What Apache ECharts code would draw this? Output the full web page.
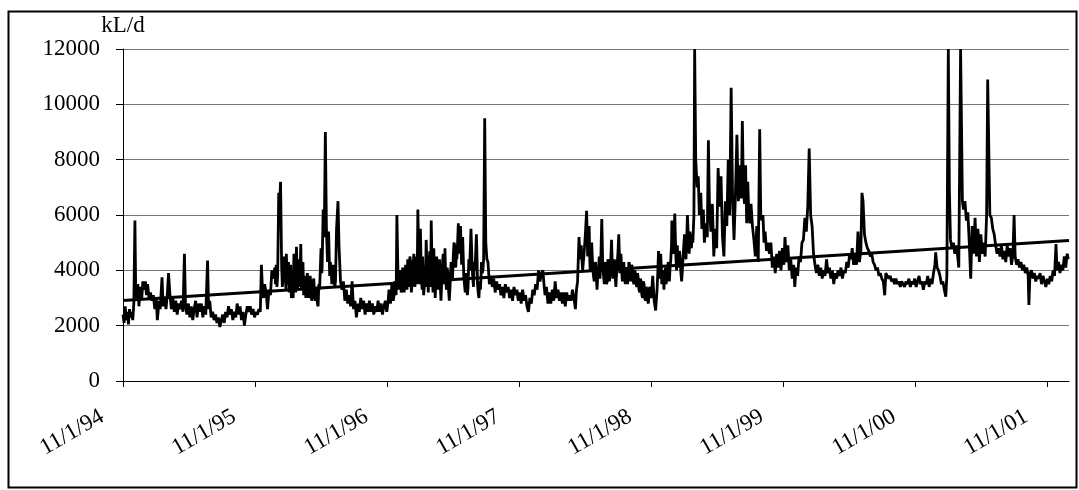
<!DOCTYPE html>
<html><head><meta charset="utf-8">
<script src="https://cdn.jsdelivr.net/npm/echarts@6/dist/echarts.min.js"></script>
<style>html,body{margin:0;padding:0;background:#fff}#c{width:1079px;height:490px}</style>
</head><body><div id="c"></div>
<script>
// x values are days since 11/1/94
const tickDays = [0, 365, 731, 1096, 1461, 1826, 2192, 2557];
const tickLabels = ['11/1/94', '11/1/95', '11/1/96', '11/1/97', '11/1/98', '11/1/99', '11/1/00', '11/1/01'];
const lastDay = 2618; // 1/1/02

// daily flow, kL/d, [day, value]
const flow9495 = [[0,2400],[3,2100],[6,2700],[9,2200],[12,2500],[15,2050],[18,2600],[21,2300],[24,2500],[27,2200],[30,2800],[33,5800],[35,3400],[38,3000],[41,3500],[44,2700],[48,3400],[52,3000],[55,3600],[58,3300],[62,3600],[65,3100],[68,3500],[72,3000],[76,3200],[80,2900],[84,3100],[88,2600],[92,3000],[95,2200],[100,2900],[103,2600],[108,3750],[111,2700],[115,3000],[119,2600],[123,3200],[126,3900],[130,3100],[134,2600],[138,3000],[142,2500],[146,2900],[150,2400],[154,2800],[158,2600],[162,2900],[166,2500],[170,4600],[173,2700],[177,2400],[181,2800],[185,2300],[189,2700],[193,2200],[197,2600],[201,2900],[205,2300],[209,2800],[213,2500],[217,2800],[221,2300],[225,2700],[229,2400],[234,4350],[237,2600],[240,2900],[244,2300],[248,2500],[252,2200],[256,2400],[260,2100],[264,2300],[268,1950],[272,2200],[276,2400],[280,2100],[284,2500],[288,2300],[292,2700],[296,2400],[300,2600],[304,2200],[308,2500],[312,2300],[316,2800],[320,2400],[324,2700],[328,2200],[332,2500],[336,2000],[340,2400],[344,2700],[348,2500],[352,2700],[356,2400],[360,2600],[364,2300]];
const flow9596 = [[368,2500],[372,2400],[376,2600],[380,2500],[383,4200],[386,3300],[389,3000],[392,3500],[396,3200],[400,2600],[404,3300],[408,3100],[412,4000],[416,3700],[420,4100],[422,3500],[424,4200],[426,3400],[428,3800],[431,6800],[434,6500],[436,7200],[439,4200],[441,3400],[443,3700],[446,4500],[447,3600],[449,3900],[451,3300],[452,4600],[454,3800],[455,3500],[458,4300],[460,3200],[462,3600],[464,4200],[466,3000],[469,3400],[471,3000],[473,4600],[476,3800],[478,3200],[480,4850],[483,3300],[485,4400],[486,4000],[489,3400],[492,4950],[494,3300],[495,3700],[498,4300],[500,3100],[501,3400],[504,3800],[506,3000],[508,3300],[510,3900],[512,3600],[514,3000],[516,3200],[518,3800],[520,3500],[522,2900],[524,3000],[526,3600],[528,3700],[530,3100],[532,2900],[534,3400],[536,3200],[538,2800],[540,2700],[542,3500],[544,3300],[546,4000],[548,4800],[550,3900],[551,4100],[554,6200],[557,5200],[560,9000],[563,5500],[566,4300],[569,5400],[572,3800],[574,4300],[576,4000],[578,3500],[580,3700],[582,4200],[584,3900],[586,3400],[588,3600],[591,5500],[595,6500],[598,4800],[602,3600],[606,3300],[610,3600],[614,2900],[618,3300],[622,2800],[626,3100],[630,2700],[634,3600],[638,2600],[642,2900],[646,2300],[650,2800],[654,2500],[658,3000],[662,2600],[666,2900],[670,2400],[674,2800],[678,2500],[682,2900],[686,2500],[690,2800],[694,2400],[698,2700],[702,2500],[706,2900],[710,2500],[714,2800],[718,2400],[722,2700],[726,2900],[730,2500]];
const flow9697 = [[734,2900],[736,3300],[738,3200],[740,2800],[742,3000],[744,3500],[746,3300],[748,2900],[750,3100],[752,3600],[754,3400],[756,3100],[758,6000],[760,4500],[761,3900],[763,3300],[764,3500],[766,4000],[768,3700],[770,3200],[772,3400],[774,4100],[776,3800],[778,3200],[780,3500],[782,4200],[784,3900],[786,3300],[788,4400],[790,3400],[792,3600],[794,4500],[796,4300],[798,3200],[800,3500],[802,4000],[805,4600],[806,3700],[808,3400],[810,4500],[812,4200],[814,3500],[816,6200],[818,4800],[819,4300],[821,3500],[823,5500],[825,4200],[826,3600],[828,3300],[829,4500],[831,3800],[832,3100],[834,3500],[835,4000],[837,3400],[839,5100],[841,4200],[843,3700],[845,3200],[847,4300],[849,4700],[850,3400],[852,4200],[853,5800],[855,4300],[856,3700],[858,3200],[860,4800],[862,4000],[864,3000],[866,3600],[868,4500],[870,3800],[872,3300],[874,3900],[876,4400],[878,3500],[880,2900],[882,3600],[884,4200],[886,4600],[888,3500],[890,3900],[891,4800],[893,3700],[895,3300],[897,4100],[899,3900],[901,3300],[903,2900],[905,3400],[906,3700],[908,4300],[910,4100],[912,3700],[914,4500],[916,5000],[918,4900],[920,4300],[921,4100],[923,4800],[924,4400],[926,5000],[928,5700],[930,4900],[931,4600],[933,5300],[934,5600],[936,4800],[937,4200],[939,4700],[940,5200],[942,4300],[943,3800],[945,3500],[947,3200],[949,3900],[951,3600],[953,3100],[955,3400],[957,4400],[959,4000],[961,4700],[963,5500],[965,4700],[966,4200],[968,3700],[970,3400],[972,4300],[974,4000],[976,4600],[978,5300],[980,4300],[981,3500],[983,3200],[985,3000],[987,3600],[989,3300],[991,3800],[992,4300],[994,3900],[996,4000],[998,4400],[1001,9500],[1004,5000],[1007,4400],[1010,4300],[1014,3500],[1018,3800],[1022,3400],[1026,3700],[1030,3200],[1034,3600],[1038,3300],[1042,3500],[1046,3100],[1050,3400],[1054,3000],[1058,3500],[1062,3200],[1066,3400],[1070,3000],[1074,3300],[1078,2900],[1082,3400],[1086,3100],[1090,3300],[1094,2900]];
const flow9798 = [[1098,3200],[1102,2800],[1106,3300],[1110,2900],[1114,3100],[1118,2700],[1122,2500],[1126,3000],[1130,2800],[1134,3300],[1138,3100],[1142,3500],[1146,3300],[1150,4000],[1154,3600],[1158,3900],[1162,4000],[1165,3500],[1168,3100],[1172,3400],[1176,2800],[1180,3200],[1184,2800],[1188,3300],[1192,2900],[1196,3600],[1200,3000],[1204,3300],[1208,2900],[1212,3200],[1216,2800],[1220,3200],[1224,2700],[1228,3200],[1232,2900],[1236,3100],[1240,2900],[1244,3300],[1248,3000],[1252,2600],[1255,3300],[1258,3600],[1262,5200],[1265,4400],[1268,4900],[1272,4000],[1276,4600],[1280,5400],[1283,6150],[1286,4500],[1288,5000],[1290,5600],[1292,4300],[1293,4000],[1295,4700],[1297,5000],[1299,4400],[1300,4100],[1302,3800],[1304,3600],[1306,4200],[1308,4300],[1310,3700],[1312,3300],[1314,3900],[1316,4000],[1318,4500],[1320,3700],[1322,4200],[1325,5850],[1327,4600],[1328,4100],[1330,3800],[1332,3500],[1334,4300],[1336,4000],[1338,3500],[1340,3600],[1342,4400],[1344,4200],[1346,3600],[1348,3800],[1350,4400],[1352,5100],[1354,4200],[1356,3700],[1358,4000],[1360,4400],[1362,3800],[1364,3400],[1366,3900],[1368,4300],[1370,4700],[1372,5300],[1374,4400],[1375,3900],[1377,4200],[1378,4600],[1380,4000],[1382,3600],[1384,4000],[1386,4300],[1388,3800],[1390,3500],[1392,3900],[1394,4100],[1396,3500],[1398,3700],[1400,4300],[1402,4200],[1404,3600],[1406,3800],[1408,4200],[1410,4000],[1412,3600],[1414,3500],[1416,4000],[1418,3900],[1420,3500],[1422,3400],[1424,3900],[1426,3700],[1428,3300],[1430,3200],[1432,3700],[1434,3600],[1436,3100],[1438,3000],[1440,3600],[1442,3500],[1444,3000],[1446,2900],[1448,3400],[1450,3300],[1452,2900],[1454,2800],[1456,3300],[1458,3400]];
const flow9899 = [[1462,3000],[1466,3800],[1470,2900],[1474,2550],[1478,3300],[1480,3900],[1482,4700],[1484,3800],[1485,4200],[1487,3700],[1488,4600],[1490,4000],[1491,3500],[1493,3800],[1494,4000],[1496,3600],[1497,3300],[1499,3800],[1501,4100],[1503,3500],[1505,3700],[1507,4100],[1509,4300],[1511,3800],[1512,3600],[1514,4100],[1516,4400],[1518,4900],[1519,5800],[1521,4800],[1523,4600],[1525,5200],[1527,6050],[1529,5000],[1530,4500],[1532,4000],[1534,4900],[1536,4400],[1538,4100],[1540,4700],[1542,4400],[1544,3900],[1546,3600],[1548,4000],[1550,4500],[1552,4900],[1554,5300],[1556,4700],[1558,4400],[1560,5100],[1562,6000],[1564,5400],[1565,5000],[1567,4600],[1569,5400],[1571,5000],[1573,4800],[1575,5300],[1577,5000],[1580,6000],[1582,12000],[1585,8000],[1589,7000],[1592,7400],[1595,6000],[1599,6800],[1602,5500],[1606,6200],[1609,5000],[1613,5700],[1617,5200],[1620,8700],[1623,6300],[1627,5400],[1631,6400],[1635,4500],[1639,5500],[1643,4800],[1647,7700],[1651,6300],[1655,7400],[1659,5200],[1663,4500],[1667,6500],[1671,5600],[1675,8000],[1679,6000],[1683,10600],[1687,6600],[1691,5100],[1695,6800],[1699,8900],[1703,6500],[1707,7800],[1711,6600],[1714,9400],[1717,6900],[1720,6400],[1723,7800],[1726,5700],[1729,7200],[1732,6000],[1735,5700],[1738,6400],[1742,5600],[1746,5100],[1750,4500],[1754,5600],[1758,4300],[1762,9100],[1765,6000],[1768,5800],[1771,6000],[1774,5000],[1777,5400],[1781,4700],[1785,5000],[1789,4600],[1793,5000],[1797,4100],[1801,4500],[1805,3900],[1809,4600],[1813,4100],[1817,4700],[1821,4000],[1825,4800]];
const flow9900 = [[1829,4200],[1832,5200],[1836,4300],[1840,4900],[1844,4000],[1848,4400],[1852,3700],[1856,4200],[1859,3400],[1863,4100],[1867,3800],[1871,4500],[1875,4300],[1879,5000],[1883,5100],[1887,5900],[1891,5400],[1895,6300],[1899,8400],[1903,6000],[1907,5600],[1911,4600],[1915,4200],[1919,3900],[1923,4200],[1927,3800],[1931,4100],[1935,3700],[1939,4000],[1943,3800],[1947,4400],[1951,3900],[1955,4100],[1959,3700],[1963,4000],[1967,3500],[1971,3900],[1975,3700],[1979,4000],[1983,3800],[1987,4100],[1991,3700],[1995,4000],[1999,3900],[2003,4300],[2007,4100],[2011,4600],[2015,4400],[2018,4800],[2022,4200],[2026,4600],[2030,4200],[2034,5400],[2038,4300],[2042,4700],[2045,6800],[2048,6500],[2052,5300],[2056,5000],[2060,4800],[2064,4700],[2068,4500],[2072,4600],[2076,4300],[2080,4200],[2084,4000],[2088,4100],[2092,3800],[2096,3900],[2100,3700],[2104,3600],[2108,3100],[2111,3900],[2115,3800],[2119,3700],[2123,3800],[2127,3600],[2131,3700],[2135,3500],[2139,3700],[2143,3500],[2147,3600],[2151,3400],[2155,3600],[2159,3500],[2163,3400],[2167,3600],[2171,3500],[2175,3700],[2179,3400],[2183,3600],[2187,3500],[2191,3700]];
const flow0001 = [[2195,3400],[2199,3600],[2203,3800],[2207,3500],[2211,3600],[2215,3300],[2219,3600],[2223,3500],[2227,3800],[2231,3400],[2235,3700],[2239,3500],[2243,3900],[2247,4200],[2249,4650],[2253,4100],[2257,4000],[2261,3800],[2265,3500],[2269,3600],[2273,3300],[2277,3050],[2280,3800],[2284,12000],[2287,6900],[2290,5100],[2294,4800],[2298,5000],[2302,4600],[2306,4900],[2310,4500],[2313,4100],[2318,12000],[2323,6500],[2326,6200],[2330,6500],[2334,5800],[2338,6100],[2342,5000],[2346,3700],[2350,5600],[2354,4600],[2358,5900],[2362,4500],[2366,5500],[2370,4300],[2374,5300],[2378,4600],[2382,5000],[2386,4500],[2390,6000],[2393,10900],[2399,6000],[2403,5900],[2407,5500],[2411,5300],[2415,4900],[2419,4600],[2423,4800],[2427,4500],[2431,4900],[2435,4400],[2439,4700],[2443,4300],[2447,4900],[2451,4500],[2455,4800],[2459,4200],[2463,4600],[2466,6000],[2469,4500],[2473,4200],[2477,4400],[2481,4100],[2485,4300],[2489,4000],[2493,4200],[2497,3900],[2501,4100],[2505,3800],[2507,2750],[2510,3900],[2514,4000],[2518,3700],[2522,3900],[2526,3600],[2530,3800],[2534,3700],[2538,3900],[2542,3500],[2546,3800],[2550,3600],[2554,3400]];
const flow0102 = [[2558,3700],[2562,3500],[2566,3800],[2570,3600],[2574,4000],[2578,3800],[2582,4950],[2585,4000],[2589,4300],[2593,3900],[2597,4200],[2601,4000],[2605,4500],[2609,4100],[2613,4600],[2616,4400]];
const trend = [[0, 2910], [lastDay, 5080]];

const flow = [].concat(flow9495, flow9596, flow9697, flow9798, flow9899, flow9900, flow0001, flow0102);
const FONT = 'Liberation Serif';

const chart = echarts.init(document.getElementById('c'), null, {renderer: 'canvas'});
chart.setOption({
  animation: false,
  backgroundColor: '#fff',
  graphic: [{
    type: 'rect', left: 6, top: 9,
    shape: {width: 1068, height: 476},
    style: {fill: 'none', stroke: '#000', lineWidth: 2}, silent: true
  }],
  grid: {left: 123, right: 10, top: 49, bottom: 109},
  xAxis: {
    type: 'value', min: 0, max: lastDay,
    axisLine: {show: true, onZero: false, lineStyle: {color: '#000', width: 1}},
    axisTick: {show: true, customValues: tickDays, length: 6, lineStyle: {color: '#000'}},
    axisLabel: {
      customValues: tickDays,
      formatter: v => tickLabels[tickDays.indexOf(v)],
      rotate: 30, margin: 22, padding: [0, 24, 0, 0],
      fontFamily: FONT, fontSize: 23, color: '#000'
    },
    splitLine: {show: false}
  },
  yAxis: {
    type: 'value', min: 0, max: 12000, interval: 2000,
    name: 'kL/d', nameLocation: 'end', nameGap: 6,
    nameTextStyle: {fontFamily: FONT, fontSize: 23, color: '#000'},
    axisLine: {show: true, lineStyle: {color: '#000', width: 1}},
    axisTick: {show: true, length: 7, lineStyle: {color: '#000'}},
    axisLabel: {margin: 23, fontFamily: FONT, fontSize: 23, color: '#000', formatter: v => String(v)},
    splitLine: {show: true, lineStyle: {color: '#777', width: 1}}
  },
  series: [
    {type: 'line', data: flow, showSymbol: false, symbol: 'none',
     lineStyle: {color: '#000', width: 2.8}, z: 3},
    {type: 'line', data: trend, showSymbol: false, symbol: 'none',
     lineStyle: {color: '#000', width: 3}, z: 4}
  ]
});
</script></body></html>
